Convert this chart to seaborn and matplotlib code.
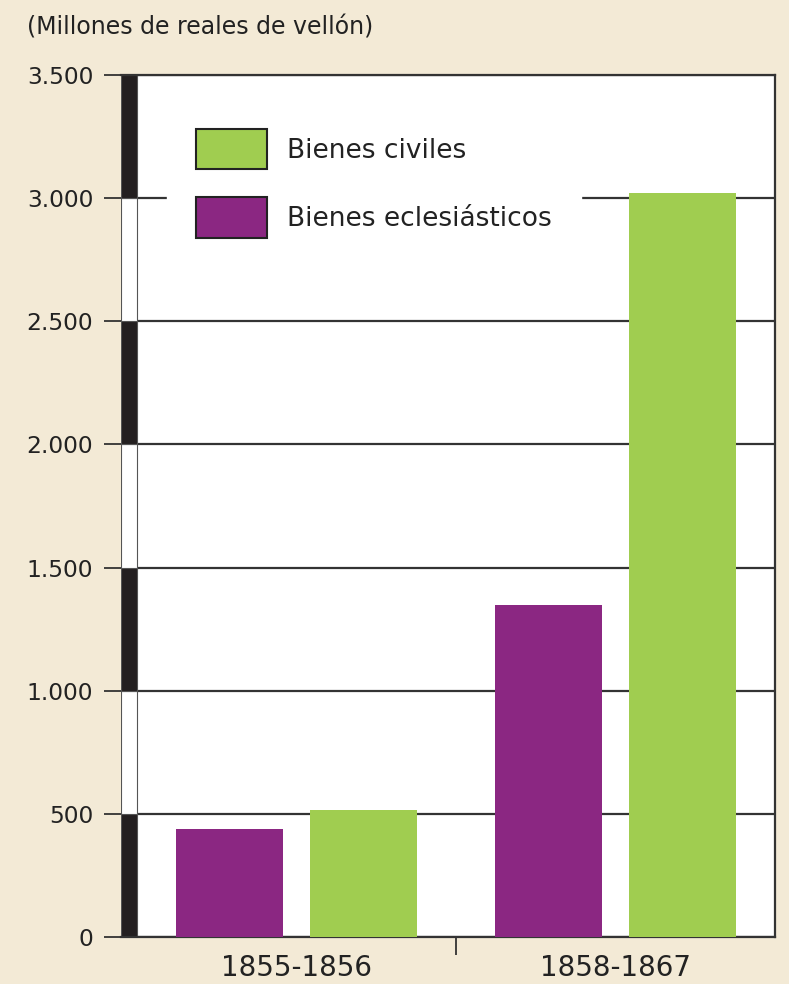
import matplotlib
matplotlib.use("Agg")
import matplotlib.pyplot as plt
from matplotlib.patches import Patch, Rectangle
import seaborn as sns
import pandas as pd

periods = ["1855-1856", "1858-1867"]
eclesiasticos = [440, 1350]
civiles = [515, 3020]
series_names = ["Bienes eclesiásticos", "Bienes civiles"]
ytick_values = [0, 500, 1000, 1500, 2000, 2500, 3000, 3500]
ytick_labels = ["0", "500", "1.000", "1.500", "2.000", "2.500", "3.000", "3.500"]
title_text = "(Millones de reales de vellón)"

BG = "#F3EAD6"
PURPLE = "#8B2782"
GREEN = "#A0CD50"
DARK = "#333333"

df = pd.DataFrame({
    "periodo": periods * 2,
    "serie": [series_names[0]] * 2 + [series_names[1]] * 2,
    "valor": eclesiasticos + civiles,
})

sns.set_theme(style="white")
plt.rcParams["font.family"] = ["DejaVu Sans"]

fig = plt.figure(figsize=(7.89, 9.84), dpi=100, facecolor=BG)
ax = fig.add_axes([121 / 789, 47 / 984, 654 / 789, 862 / 984])
ax.set_facecolor("white")

sns.barplot(data=df, x="periodo", y="valor", hue="serie", order=periods,
            hue_order=series_names, palette=[PURPLE, GREEN], width=0.84, gap=0.2,
            saturation=1, legend=False, ax=ax, zorder=3, linewidth=0)

ax.set_xlim(-0.55, 1.5)
ax.set_ylim(0, 3500)

# grid lines
for v in ytick_values:
    ax.axhline(v, color=DARK, lw=1.6, zorder=1)

# alternating scale bar on the left
for i in range(len(ytick_values) - 1):
    fc = "#231F20" if i % 2 == 0 else "white"
    ax.add_patch(Rectangle((-0.55, ytick_values[i]), 0.05,
                           ytick_values[i + 1] - ytick_values[i],
                           facecolor=fc, edgecolor="#555555", lw=0.8, zorder=2))

ax.set_yticks(ytick_values)
ax.set_yticklabels(ytick_labels)
ax.tick_params(axis="y", direction="out", length=12, width=1.3, color=DARK,
               pad=8, labelsize=16.8, labelcolor="#222222", left=True)

ax.set_xticks([0.5])
ax.set_xticklabels([""])
ax.set_xticks([0, 1], minor=True)
ax.set_xticklabels(periods, minor=True)
ax.tick_params(axis="x", which="major", direction="out", length=13, width=1.3,
               color=DARK, bottom=True)
ax.tick_params(axis="x", which="minor", length=0, pad=12, labelsize=20,
               labelcolor="#222222")
ax.set_xlabel("")
ax.set_ylabel("")

for side in ["top", "right", "bottom"]:
    ax.spines[side].set_color(DARK)
    ax.spines[side].set_linewidth(1.6)
ax.spines["left"].set_visible(False)

handles = [Patch(facecolor=GREEN, edgecolor="#222222", lw=1.5, label=series_names[1]),
           Patch(facecolor=PURPLE, edgecolor="#222222", lw=1.5, label=series_names[0])]
leg = ax.legend(handles=handles, loc="upper left",
                bbox_to_anchor=(46 / 654, (937 - 100) / 862), borderaxespad=0,
                frameon=True, fancybox=False, facecolor="white", edgecolor="white",
                framealpha=1, fontsize=19, handlelength=2.7, handleheight=1.98,
                labelspacing=1.05, handletextpad=0.76, borderpad=1.1)
leg.set_zorder(5)
for t in leg.get_texts():
    t.set_color("#222222")

fig.text(27 / 789, 1 - 28 / 984, title_text, ha="left", va="center",
         fontsize=17, color="#222222")

fig.savefig("out.png", dpi=100, facecolor=BG)
